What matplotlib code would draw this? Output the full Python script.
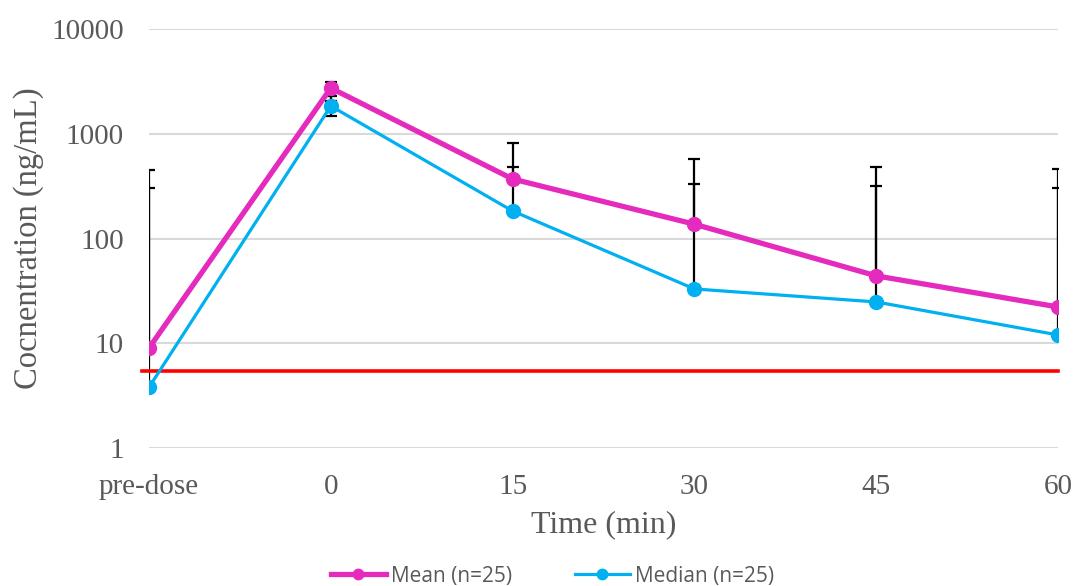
import matplotlib
matplotlib.use("Agg")
import matplotlib.pyplot as plt
import numpy as np

# ---- data ----
time_labels = ["pre-dose", "0", "15", "30", "45", "60"]
mean_conc = [9.0, 2730, 370, 137, 44, 22.2]
median_conc = [3.8, 1840, 183, 33, 24.8, 12.0]
mean_upper = [451, 3120, 816, 574, 482, 461]      # top of mean whisker
mean_lower = [9.0, 2050, 370, 137, 44, 22.2]      # bottom of mean whisker
median_upper = [303, 2293, 482, 331, 317, 303]   # top of median whisker
median_lower = [3.8, 1477, 183, 33, 24.8, 12.0]   # bottom of median whisker
lloq = 5.4

MAGENTA = "#E52BBE"
CYAN = "#00B0F0"
GREY_TXT = "#595959"

fig = plt.figure(figsize=(10.75, 5.86), dpi=100)
ax = fig.add_axes([0.1386, 0.2355, 0.8456, 0.715])

x = np.arange(len(time_labels))
mean_conc = np.array(mean_conc)
median_conc = np.array(median_conc)

# whiskers (drawn first so markers sit on top)
ax.errorbar(x, mean_conc,
            yerr=[mean_conc - np.array(mean_lower), np.array(mean_upper) - mean_conc],
            fmt='none', ecolor='black', elinewidth=1.6, capsize=4, capthick=1.6, zorder=2)
ax.errorbar(x, median_conc,
            yerr=[median_conc - np.array(median_lower), np.array(median_upper) - median_conc],
            fmt='none', ecolor='black', elinewidth=1.6, capsize=4, capthick=1.6, zorder=2)

ax.axhline(lloq, xmin=-0.008, xmax=1, color='#FF0000', lw=2.6, clip_on=False, zorder=3)

ax.plot(x, mean_conc, color=MAGENTA, lw=3.8, marker='o', ms=10, label='Mean (n=25)', zorder=5)
ax.plot(x, median_conc, color=CYAN, lw=2.3, marker='o', ms=10, label='Median (n=25)', zorder=4)

ax.set_yscale('log')
ax.set_ylim(1, 10000)
ax.set_xlim(0, 5)
ax.set_yticks([1, 10, 100, 1000, 10000])
ax.set_yticklabels(["1", "10", "100", "1000", "10000"])
ax.minorticks_off()
ax.set_xticks(x)
ax.set_xticklabels(time_labels)

for s in ax.spines.values():
    s.set_visible(False)
ax.tick_params(length=0, labelsize=21, labelcolor=GREY_TXT)
for lbl in ax.get_xticklabels() + ax.get_yticklabels():
    lbl.set_family('Liberation Serif')
ax.tick_params(axis='y', pad=18)
ax.tick_params(axis='x', pad=19)
ax.grid(axis='y', color='#D9D9D9', lw=1.5)
ax.set_axisbelow(True)

ax.set_xlabel("Time (min)", fontsize=23, family='Liberation Serif', color=GREY_TXT, labelpad=7)
ax.set_ylabel("Cocnentration (ng/mL)", fontsize=23.5, family='Liberation Serif', color=GREY_TXT, labelpad=5)

fig.legend(loc='lower center', bbox_to_anchor=(0.514, -0.033), ncol=2, frameon=False,
           prop={'family': 'Open Sans', 'size': 15}, labelcolor=GREY_TXT, markerscale=0.75,
           handlelength=2.65, handletextpad=0.25, columnspacing=3.0)

fig.savefig("out.png", dpi=100)
